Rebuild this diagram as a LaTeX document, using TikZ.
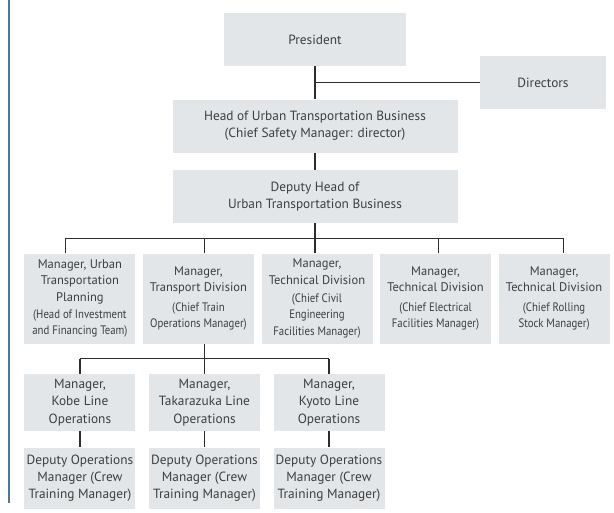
\documentclass[tikz,border=0pt]{standalone}
\usepackage{fontspec}
\setmainfont{PT Sans}
\newfontfamily\parenfamily{PT Sans}[FakeStretch=0.88]
\usepackage{tikz}
\usetikzlibrary{positioning,calc}
\definecolor{boxgray}{RGB}{226,230,233}
\definecolor{textgray}{RGB}{62,62,62}
\definecolor{linegray}{RGB}{45,45,45}
\definecolor{edgeblue}{RGB}{78,116,160}
\tikzset{
  orgbox/.style={rectangle,fill=boxgray,align=center,text=textgray,font=\fontsize{10}{13}\selectfont,inner sep=1pt},
  topbox/.style={orgbox,minimum width=136.5pt,minimum height=39.75pt},
  widebox/.style={orgbox,minimum width=213.75pt,minimum height=39.75pt},
  divbox/.style={orgbox,minimum width=83.25pt,minimum height=67.5pt,font=\fontsize{9.4}{12.5}\selectfont},
  linebox/.style={orgbox,minimum width=83.25pt,minimum height=42.75pt},
  crewbox/.style={orgbox,minimum width=83.25pt,minimum height=45.75pt},
  link/.style={draw=linegray,line width=0.8pt},
  stem/.style={draw=linegray,line width=1.2pt},
  sidebar/.style={draw=edgeblue,line width=1.5pt}
}
\newcommand{\pline}[1]{{\parenfamily\fontsize{9.2}{11.4}\selectfont #1}}

\begin{document}
\begin{tikzpicture}[x=0.75pt,y=-0.75pt]
  \useasboundingbox (0,0) rectangle (614,513);
  \draw[sidebar] (9,0) -- (9,503);

  \node[topbox] (pres) at (315,39.5) {President};
  \node[orgbox,minimum width=94.5pt,minimum height=39.75pt] (dir) at (543,82.5) {Directors};
  \node[widebox,below=24.75pt of pres] (head) {Head of Urban Transportation Business\\(Chief Safety Manager: director)};
  \node[widebox,below=12.75pt of head] (dep) {Deputy Head of\\Urban Transportation Business};

  \node[divbox,below=22.5pt of dep,xshift=1.5pt] (civil) {Manager,\\Technical Division\\[1pt]\pline{(Chief Civil}\\\pline{Engineering}\\\pline{Facilities Manager)}};
  \node[divbox,left=5.25pt of civil] (trans) {Manager,\\Transport Division\\[2pt]\pline{(Chief Train}\\\pline{Operations Manager)}};
  \node[divbox,left=5.25pt of trans] (plan) {Manager, Urban\\Transportation\\Planning\\\pline{(Head of Investment}\\\pline{and Financing Team)}};
  \node[divbox,right=5.25pt of civil] (elec) {Manager,\\Technical Division\\[2pt]\pline{(Chief Electrical}\\\pline{Facilities Manager)}};
  \node[divbox,right=5.25pt of elec] (stock) {Manager,\\Technical Division\\[2pt]\pline{(Chief Rolling}\\\pline{Stock Manager)}};

  \node[linebox,below=22.5pt of trans,xshift=4.5pt] (taka) {Manager,\\Takarazuka Line\\Operations};
  \node[linebox,left=9.75pt of taka] (kobe) {Manager,\\Kobe Line\\Operations};
  \node[linebox,right=9.75pt of taka] (kyoto) {Manager,\\Kyoto Line\\Operations};

  \node[crewbox,below=12pt of kobe] (crewK) {Deputy Operations\\Manager (Crew\\Training Manager)};
  \node[crewbox,below=12pt of taka] (crewT) {Deputy Operations\\Manager (Crew\\Training Manager)};
  \node[crewbox,below=12pt of kyoto] (crewY) {Deputy Operations\\Manager (Crew\\Training Manager)};

  \coordinate (bus) at ($(dep.south)!0.5!(dep.south |- civil.north)$);
  \coordinate (subbus) at ($(taka.north |- trans.south)!0.5!(taka.north)$);

  \draw[stem] (pres.south) -- (head.north);
  \draw[link] (dir.west) -- (dir.west -| pres.south);
  \draw[stem] (head.south) -- (dep.north);
  \draw[stem] (dep.south) -- (dep.south |- civil.north);
  \draw[link] ([xshift=-10.9pt]plan.north) |- ([xshift=7.1pt]stock.north |- bus) -- ([xshift=7.1pt]stock.north);
  \draw[link] (taka.north |- trans.north) -- (taka.north |- bus);
  \draw[link] ([xshift=1.9pt]elec.north) -- ([xshift=1.9pt]elec.north |- bus);
  \draw[stem] (taka.north |- trans.south) -- (taka.north);
  \draw[link] (kobe.north |- subbus) -- (kyoto.north |- subbus);
  \draw[stem] (kobe.north |- subbus) -- (kobe.north);
  \draw[stem] (kyoto.north |- subbus) -- (kyoto.north);
  \foreach \a/\b in {kobe/crewK,taka/crewT,kyoto/crewY}
    \draw[stem] (\a) -- (\b);
\end{tikzpicture}
\end{document}
